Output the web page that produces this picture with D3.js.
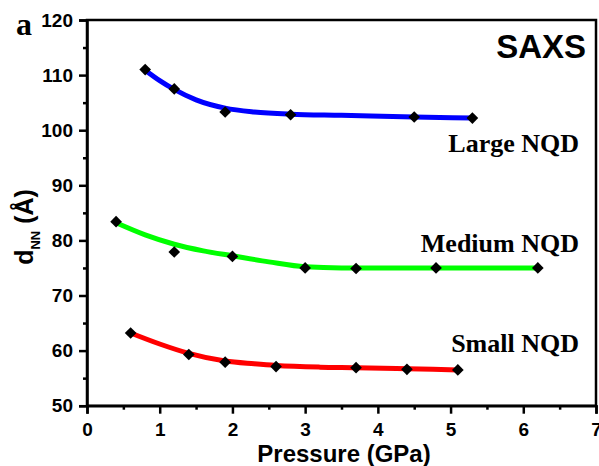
<!DOCTYPE html>
<html>
<head>
<meta charset="utf-8">
<script src="https://cdn.jsdelivr.net/npm/d3@7"></script>
<style>
  body { margin: 0; background: #fff; }
  svg { display: block; }
</style>
</head>
<body>
<svg id="chart" width="599" height="466"></svg>
<script>
// ---- data ----
const largeP   = [0.8, 1.2, 1.9, 2.8, 4.5, 5.3];
const largeD   = [111.0, 107.5, 103.3, 102.8, 102.4, 102.2];
const mediumP  = [0.4, 1.2, 2.0, 3.0, 3.7, 4.8, 6.2];
const mediumD  = [83.4, 77.9, 77.1, 75.0, 74.9, 75.0, 75.0];
const smallP   = [0.6, 1.4, 1.9, 2.6, 3.7, 4.4, 5.1];
const smallD   = [63.2, 59.3, 57.9, 57.1, 56.9, 56.6, 56.5];

// fitted curves
const largeFitP  = [0.8, 1.0, 1.2, 1.5, 1.9, 2.3, 2.8, 3.5, 4.5, 5.3];
const largeFitD  = [110.9, 109.0, 107.4, 105.5, 104.0, 103.3, 102.9, 102.7, 102.4, 102.2];
const mediumFitP = [0.4, 0.8, 1.2, 1.6, 2.0, 2.5, 3.0, 3.5, 4.0, 6.2];
const mediumFitD = [83.2, 81.0, 79.3, 78.1, 77.2, 76.1, 75.2, 75.0, 75.0, 75.0];
const smallFitP  = [0.6, 1.0, 1.4, 1.9, 2.3, 2.6, 3.2, 3.7, 4.4, 5.1];
const smallFitD  = [63.2, 61.2, 59.5, 58.1, 57.6, 57.3, 57.0, 56.9, 56.7, 56.5];

const seriesNames  = ["Large NQD", "Medium NQD", "Small NQD"];
const seriesColors = ["#0000ff", "#00ff00", "#ff0000"];
const xTicks = [0, 1, 2, 3, 4, 5, 6, 7];
const yTicks = [50, 60, 70, 80, 90, 100, 110, 120];
const xMinor = [0.5, 1.5, 2.5, 3.5, 4.5, 5.5, 6.5];
const yMinor = [55, 65, 75, 85, 95, 105, 115];

// ---- layout ----
const svg = d3.select("#chart");
const m = { left: 87, top: 20, right: 596, bottom: 405.7 };
const x = d3.scaleLinear().domain([0, 7]).range([m.left, m.right]);
const y = d3.scaleLinear().domain([50, 120]).range([m.bottom, m.top]);

const sans = "Arial, 'Liberation Sans', sans-serif";
const serif = "'Times New Roman', 'Liberation Serif', serif";

// frame
svg.append("rect")
  .attr("x", m.left).attr("y", m.top)
  .attr("width", m.right - m.left).attr("height", m.bottom - m.top)
  .attr("fill", "none").attr("stroke", "#000").attr("stroke-width", 2.5);

// axes
const xAxis = svg.append("g").attr("transform", `translate(0,${m.bottom})`)
  .call(d3.axisBottom(x).tickValues(xTicks).tickSize(8).tickPadding(9).tickFormat(d3.format("d")));
const yAxis = svg.append("g").attr("transform", `translate(${m.left},0)`)
  .call(d3.axisLeft(y).tickValues(yTicks).tickSize(8).tickPadding(6).tickFormat(d3.format("d")));
[xAxis, yAxis].forEach(g => {
  g.select(".domain").attr("stroke-width", 2.5);
  g.selectAll(".tick line").attr("stroke-width", 2.5);
  g.selectAll(".tick text").attr("font-family", sans).attr("font-weight", "bold")
    .attr("font-size", 19).attr("fill", "#000");
});
const xMin = svg.append("g").attr("transform", `translate(0,${m.bottom})`)
  .call(d3.axisBottom(x).tickValues(xMinor).tickSize(4).tickFormat(""));
const yMin = svg.append("g").attr("transform", `translate(${m.left},0)`)
  .call(d3.axisLeft(y).tickValues(yMinor).tickSize(4).tickFormat(""));
[xMin, yMin].forEach(g => {
  g.select(".domain").remove();
  g.selectAll(".tick line").attr("stroke-width", 2.5);
});

// fit curves
const fits = [
  [largeFitP, largeFitD], [mediumFitP, mediumFitD], [smallFitP, smallFitD]
];
const line = d3.line().x(d => x(d[0])).y(d => y(d[1])).curve(d3.curveMonotoneX);
fits.forEach((f, i) => {
  const pts = f[0].map((p, j) => [p, f[1][j]]);
  svg.append("path").datum(pts).attr("d", line)
    .attr("fill", "none").attr("stroke", seriesColors[i]).attr("stroke-width", 5);
});

// markers
const data = [[largeP, largeD], [mediumP, mediumD], [smallP, smallD]];
const sym = d3.symbol().type(d3.symbolSquare).size(68);
data.forEach(s => {
  const pts = s[0].map((p, j) => [p, s[1][j]]);
  svg.append("g").selectAll("path").data(pts).join("path")
    .attr("d", sym)
    .attr("transform", d => `translate(${x(d[0])},${y(d[1])}) rotate(45)`)
    .attr("fill", "#000");
});

// series labels
const labelY = [152, 252, 352];
seriesNames.forEach((n, i) => {
  svg.append("text").attr("x", 579).attr("y", labelY[i])
    .attr("text-anchor", "end").attr("font-family", serif).attr("font-weight", "bold")
    .attr("font-size", 26).attr("fill", "#000").text(n);
});

// SAXS
svg.append("text").attr("x", 586).attr("y", 58).attr("text-anchor", "end")
  .attr("font-family", sans).attr("font-weight", "bold").attr("font-size", 33)
  .attr("fill", "#000").text("SAXS");

// panel letter
svg.append("text").attr("x", 16).attr("y", 35)
  .attr("font-family", serif).attr("font-weight", "bold").attr("font-size", 32)
  .attr("fill", "#000").text("a");

// x title
svg.append("text").attr("x", 344).attr("y", 462).attr("text-anchor", "middle")
  .attr("font-family", sans).attr("font-weight", "bold").attr("font-size", 24)
  .attr("fill", "#000").text("Pressure (GPa)");

// y title
const yt = svg.append("text")
  .attr("transform", "translate(33,227) rotate(-90)")
  .attr("text-anchor", "middle")
  .attr("font-family", sans).attr("font-weight", "bold").attr("font-size", 25)
  .attr("fill", "#000");
yt.append("tspan").text("d");
yt.append("tspan").attr("font-size", 13).attr("dy", 7).text("NN");
yt.append("tspan").attr("dy", -7).text(" (Å)");
</script>
</body>
</html>
